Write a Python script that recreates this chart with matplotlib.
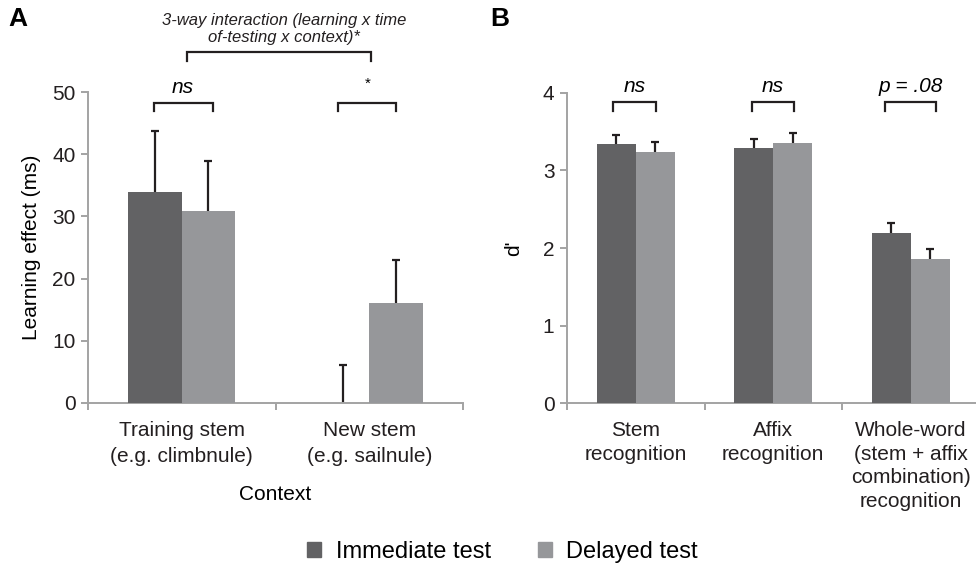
import matplotlib.pyplot as plt
from matplotlib.patches import Patch
import numpy as np

plt.rcParams['font.family'] = ['Liberation Sans', 'DejaVu Sans']

# panel A data
a_categories = ["Training stem\n(e.g. climbnule)", "New stem\n(e.g. sailnule)"]
a_immediate = [33.9, 0.0]
a_immediate_err = [9.9, 6.1]
a_delayed = [30.9, 16.0]
a_delayed_err = [8.0, 7.0]
a_marks = ["ns", "*"]

# panel B data
b_categories = ["Stem\nrecognition", "Affix\nrecognition",
                "Whole-word\n(stem + affix\ncombination)\nrecognition"]
b_immediate = [3.34, 3.29, 2.19]
b_immediate_err = [0.11, 0.12, 0.13]
b_delayed = [3.24, 3.35, 1.855]
b_delayed_err = [0.13, 0.13, 0.135]
b_marks = ["ns", "ns", "p = .08"]

DARK = '#626264'
LIGHT = '#96979a'
AXIS = '#a3a3a3'
INK = '#231f20'
W = 0.285

fig = plt.figure(figsize=(9.76, 5.67), dpi=100)


def style_axes(ax, n, ymax, yticks):
  ax.set_xlim(-0.5, n - 0.5)
  ax.set_ylim(0, ymax)
  for s in ['top', 'right']:
    ax.spines[s].set_visible(False)
  for s in ['left', 'bottom']:
    ax.spines[s].set_color(AXIS)
    ax.spines[s].set_linewidth(1.4)
  ax.set_yticks(yticks)
  ax.tick_params(axis='y', colors=AXIS, labelcolor=INK, length=5, width=1.4,
                 labelsize=15, pad=4)
  ax.set_xticks(np.arange(n))
  ax.set_xticks(np.arange(n + 1) - 0.5, minor=True)
  ax.tick_params(axis='x', which='major', length=0, labelsize=15, pad=13,
                 labelcolor=INK)
  ax.tick_params(axis='x', which='minor', length=5, width=1.4, colors=AXIS)


def draw_bars(ax, imm, imm_err, dele, dele_err):
  x = np.arange(len(imm))
  ax.errorbar(x - W / 2, imm, yerr=imm_err, fmt='none', ecolor=INK,
              elinewidth=1.6, capsize=2.8, capthick=1.6, zorder=2)
  ax.errorbar(x + W / 2, dele, yerr=dele_err, fmt='none', ecolor=INK,
              elinewidth=1.6, capsize=2.8, capthick=1.6, zorder=2)
  ax.bar(x - W / 2, imm, W, color=DARK, zorder=3)
  ax.bar(x + W / 2, dele, W, color=LIGHT, zorder=3)


def bracket(ax, x0, x1, ytop, ybot, lw=1.6):
  ax.plot([x0, x0, x1, x1], [ybot, ytop, ytop, ybot], color=INK, lw=lw,
          clip_on=False, solid_joinstyle='miter', zorder=4)


# ---- panel A ----
axA = fig.add_axes([88 / 976, 1 - 403 / 567, 375 / 976, 311 / 567])
draw_bars(axA, a_immediate, a_immediate_err, a_delayed, a_delayed_err)
style_axes(axA, 2, 50, np.arange(0, 51, 10))
axA.set_xticklabels(a_categories, linespacing=1.45)
axA.set_ylabel("Learning effect (ms)", fontsize=15, labelpad=8)
axA.set_xlabel("Context", fontsize=15, labelpad=14)

a_bracket_x = [(-0.15, 0.165), (0.835, 1.145)]
for (x0, x1), mark in zip(a_bracket_x, a_marks):
  bracket(axA, x0, x1, 48.3, 47.0)
  if mark == "ns":
    axA.text((x0 + x1) / 2, 50.8, mark, style='italic', fontsize=15,
             ha='center', va='center')
  else:
    axA.text((x0 + x1) / 2, 51.3, mark, fontsize=11, ha='center',
             va='center')

bracket(axA, 0.03, 1.01, 56.5, 55.0)
axA.text(0.545, 57.6, "3-way interaction (learning x time\nof-testing x context)*",
         style='italic', fontsize=12, ha='center', va='bottom', color=INK,
         linespacing=1.15)

# ---- panel B ----
axB = fig.add_axes([567 / 976, 1 - 403.3 / 567, 412.5 / 976, 310.6 / 567])
draw_bars(axB, b_immediate, b_immediate_err, b_delayed, b_delayed_err)
style_axes(axB, 3, 4, np.arange(0, 5, 1))
axB.set_xticklabels(b_categories, linespacing=1.3)
axB.set_ylabel("d'", fontsize=15, labelpad=14)

b_bracket_x = [(-0.165, 0.147), (-0.157, 0.151), (-0.187, 0.184)]
for i, ((x0, x1), mark) in enumerate(zip(b_bracket_x, b_marks)):
  bracket(axB, i + x0, i + x1, 3.88, 3.77)
  axB.text(i + (x0 + x1) / 2, 4.08, mark, style='italic', fontsize=15,
           ha='center', va='center')

fig.text(8 / 976, 1 - 19 / 567, "A", fontsize=19, fontweight='bold',
         va='center', ha='left')
fig.text(490 / 976, 1 - 19 / 567, "B", fontsize=19, fontweight='bold',
         va='center', ha='left')

handles = [Patch(color=DARK, label="Immediate test"),
           Patch(color=LIGHT, label="Delayed test")]
fig.legend(handles=handles, loc='center', bbox_to_anchor=(0.515, 1 - 552 / 567),
           ncol=2, frameon=False, fontsize=17, handlelength=0.6,
           handleheight=0.6, handletextpad=0.6, columnspacing=2.0)

fig.savefig('out.png', dpi=100)
